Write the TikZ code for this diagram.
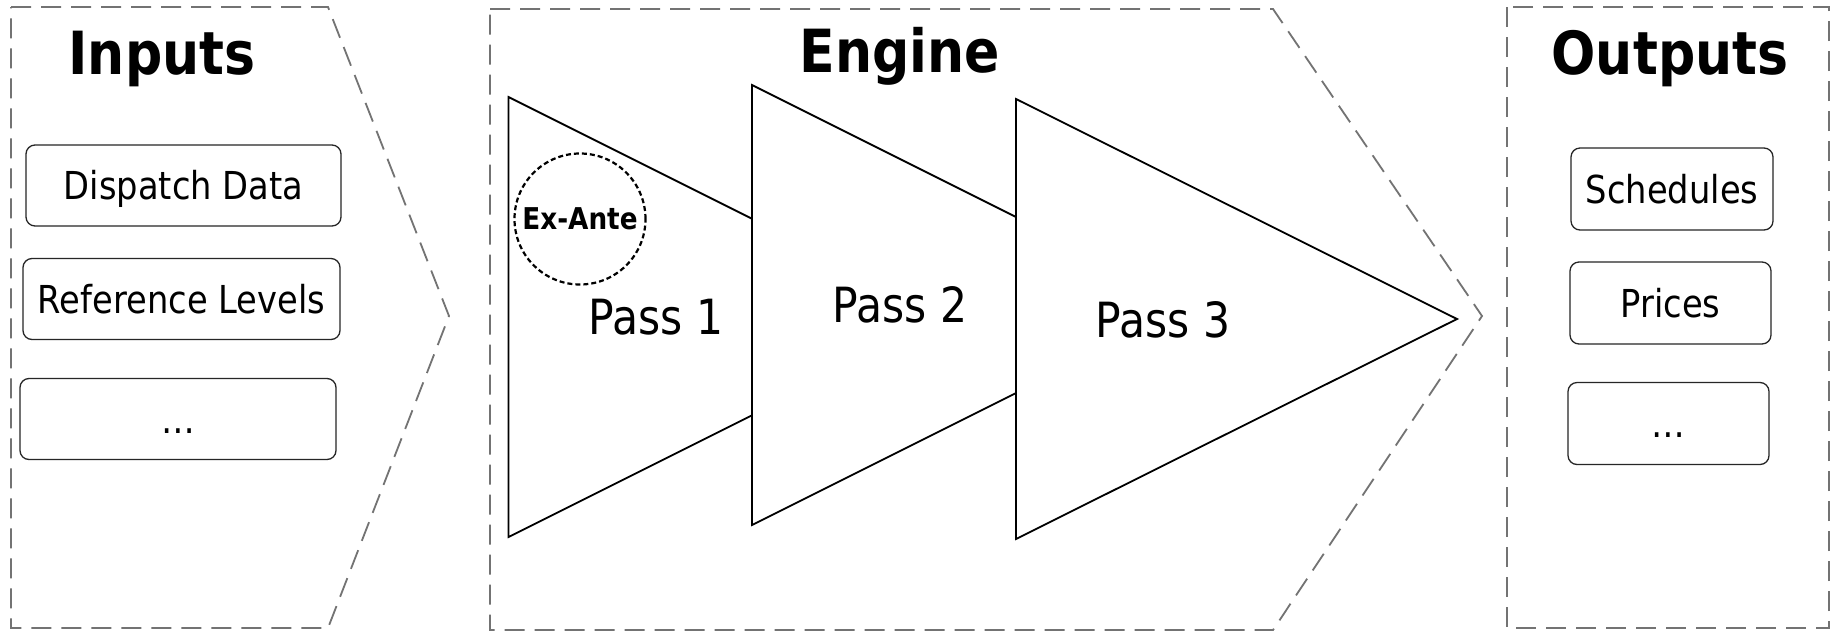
\documentclass[tikz,border=0pt]{standalone}
\usepackage{fontspec}
\setmainfont{DejaVu Sans}[FakeStretch=0.876]
\begin{document}
\begin{tikzpicture}[x=1pt,y=-1pt,
  zone/.style={draw=black!55, line width=1.8pt, dash pattern=on 20pt off 10pt, line join=miter},
  item/.style={draw=black!85, line width=1.3pt, rounded corners=9pt, fill=white,
    inner sep=0pt, text height=28pt, text depth=0pt, font=\fontsize{38.5}{44}\selectfont},
  title/.style={anchor=base, inner sep=0pt, font=\fontsize{59.5}{66}\selectfont\bfseries},
  tri/.style={draw=black, line width=1.8pt, fill=white, line join=miter},
  passlbl/.style={anchor=base, inner sep=0pt, font=\fontsize{48.5}{54}\selectfont},
  exante/.style={circle, draw=black, line width=2.2pt, dash pattern=on 5pt off 3pt,
    minimum size=131pt, inner sep=0pt, font=\fontsize{30}{34}\selectfont\bfseries}]
\useasboundingbox (0,0) rectangle (1837,633);
\fill[white] (0,0) rectangle (1837,633);

% zones
\draw[zone] (11,7) -- (328,7) -- (449,316) -- (328,628) -- (11,628) -- cycle;
\draw[zone] (490,9) -- (1273,9) -- (1482,316) -- (1273,630) -- (490,630) -- cycle;
\draw[zone] (1507,7) rectangle (1829,628);

% titles
\node[title] (tin) at (162,74) {Inputs};
\node[title] (teng) at (900,72) {Engine};
\node[title] (tout) at (1670,74) {Outputs};

% input items
\node[item, minimum width=315pt, minimum height=81pt] (in1) at (183.5,185.5) {Dispatch Data};
\node[item, minimum width=317pt, minimum height=81pt] (in2) at (181.5,299) {Reference Levels};
\node[item, minimum width=316pt, minimum height=81pt] (in3) at (178,419) {…};

% output items
\node[item, minimum width=202pt, minimum height=82pt] (out1) at (1672,189) {Schedules};
\node[item, minimum width=201pt, minimum height=82pt] (out2) at (1670.5,303) {Prices};
\node[item, minimum width=201pt, minimum height=82pt] (out3) at (1668.5,423.5) {…};

% passes
\draw[tri] (508.5,97) -- (948.5,317) -- (508.5,537) -- cycle;
\draw[tri] (752,85) -- (1192,305) -- (752,525) -- cycle;
\draw[tri] (1016,99) -- (1457,319) -- (1016,539) -- cycle;

\node[exante] (ea) at (580,219) {Ex-Ante};
\node[passlbl] (p1) at (656,334) {Pass 1};
\node[passlbl] (p2) at (900,322) {Pass 2};
\node[passlbl] (p3) at (1163,337) {Pass 3};
\end{tikzpicture}
\end{document}
